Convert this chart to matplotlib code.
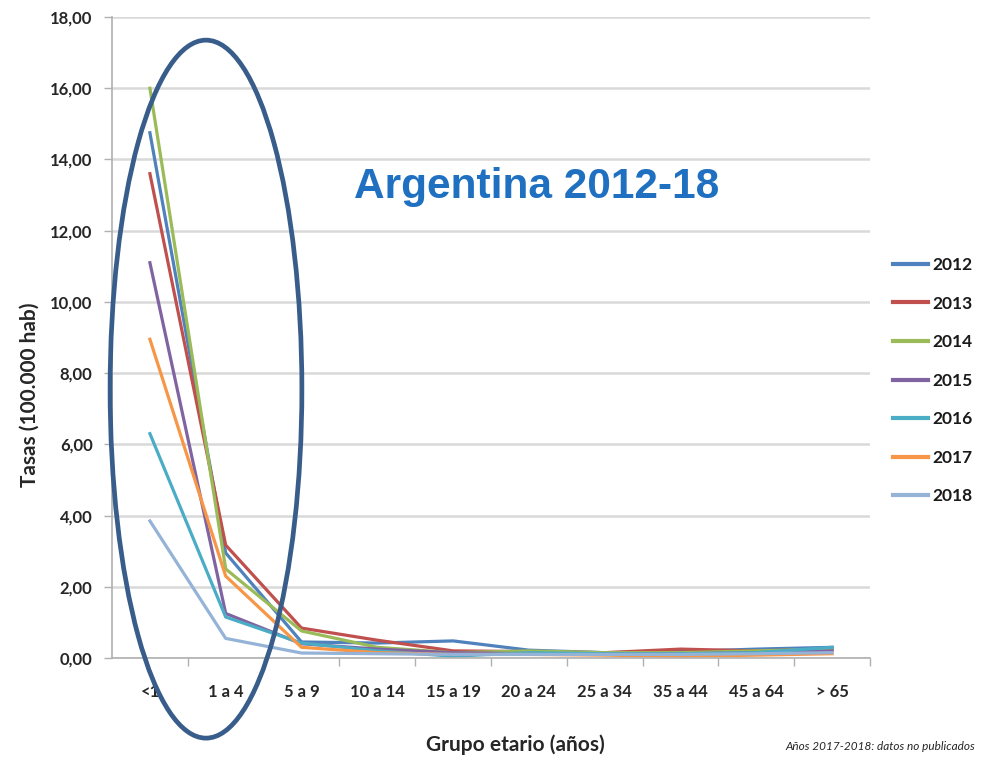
import matplotlib
matplotlib.use("Agg")
import matplotlib.pyplot as plt
from matplotlib.patches import Ellipse

categories = ["<1", "1 a 4", "5 a 9", "10 a 14", "15 a 19", "20 a 24", "25 a 34", "35 a 44", "45 a 64", "> 65"]
years = ["2012", "2013", "2014", "2015", "2016", "2017", "2018"]
v2012 = [14.75, 2.95, 0.45, 0.42, 0.48, 0.22, 0.15, 0.18, 0.25, 0.30]
v2013 = [13.60, 3.17, 0.84, 0.50, 0.20, 0.18, 0.15, 0.25, 0.20, 0.25]
v2014 = [16.00, 2.50, 0.76, 0.30, 0.15, 0.20, 0.15, 0.15, 0.20, 0.25]
v2015 = [11.10, 1.25, 0.40, 0.25, 0.15, 0.12, 0.12, 0.12, 0.15, 0.20]
v2016 = [6.30, 1.15, 0.42, 0.20, 0.05, 0.15, 0.12, 0.12, 0.15, 0.30]
v2017 = [8.95, 2.30, 0.30, 0.15, 0.10, 0.10, 0.08, 0.05, 0.08, 0.12]
v2018 = [3.85, 0.55, 0.14, 0.12, 0.10, 0.10, 0.10, 0.10, 0.12, 0.15]
series = [v2012, v2013, v2014, v2015, v2016, v2017, v2018]
colors = ["#4F81BD", "#C0504D", "#9BBB59", "#8064A2", "#4BACC6", "#F79646", "#95B3D7"]
yticks = [0, 2, 4, 6, 8, 10, 12, 14, 16, 18]

plt.rcParams['font.family'] = ['Lato', 'DejaVu Sans']

fig = plt.figure(figsize=(9.82, 7.57), dpi=100)
ax = fig.add_axes([112/982, 1-658/757, 758/982, (658-17)/757])

x = list(range(len(categories)))
for name, vals, c in zip(years, series, colors):
    ax.plot(x, vals, color=c, lw=2.3, label=name, solid_joinstyle='round')

ax.set_xlim(-0.5, len(categories) - 0.5)
ax.set_ylim(0, 18)
ax.set_yticks(yticks)
ax.set_yticklabels([f"{t:.2f}".replace(".", ",") for t in yticks],
                   fontsize=12, fontweight='bold', color='#262626')
ax.set_xticks(x)
ax.set_xticklabels(categories, fontsize=12, fontweight='bold', color='#262626')
ax.set_xticks([i + 0.5 for i in range(len(categories))], minor=True)
ax.tick_params(axis='x', which='major', length=0, pad=19)
ax.tick_params(axis='x', which='minor', length=6, color='#b0b0b0', width=1)
ax.tick_params(axis='y', length=6, color='#b0b0b0', width=1, pad=8)
ax.grid(axis='y', color='#d9d9d9', lw=1.8)
ax.set_axisbelow(True)
for s in ['top', 'right']:
    ax.spines[s].set_visible(False)
for s in ['left', 'bottom']:
    ax.spines[s].set_color('#b0b0b0')
    ax.spines[s].set_linewidth(1.2)

fig.text(30/982, 1-395/757, "Tasas (100.000 hab)", fontsize=15, fontweight='bold',
         color='#262626', ha='center', va='center', rotation=90)
fig.text(515/982, 1-745/757, "Grupo etario (años)", fontsize=15, fontweight='bold',
         color='#262626', ha='center', va='center')
fig.text(975/982, 1-746/757, "Años 2017-2018: datos no publicados", fontsize=8.5,
         style='italic', color='#262626', ha='right', va='center')

fig.text(537/982, 1-187/757, "Argentina 2012-18", fontsize=30.5, fontweight='bold',
         color='#1F70C1', ha='center', va='center', family=['Liberation Sans', 'DejaVu Sans'])

leg = ax.legend(loc='upper left', bbox_to_anchor=(886/982, 1-250/757), bbox_transform=fig.transFigure,
                frameon=False, fontsize=12.5, handlelength=2.0, handletextpad=0.25,
                labelspacing=1.30, borderaxespad=0)
for t in leg.get_texts():
    t.set_fontweight('bold')
    t.set_color('#1a1a1a')
for h in leg.get_lines():
    h.set_linewidth(3)

ell = Ellipse((0.74, 7.55), width=2.53, height=19.6, fill=False,
              edgecolor='#385D8A', lw=3.4, clip_on=False, zorder=5)
ax.add_patch(ell)

fig.savefig("out.png", dpi=100)
